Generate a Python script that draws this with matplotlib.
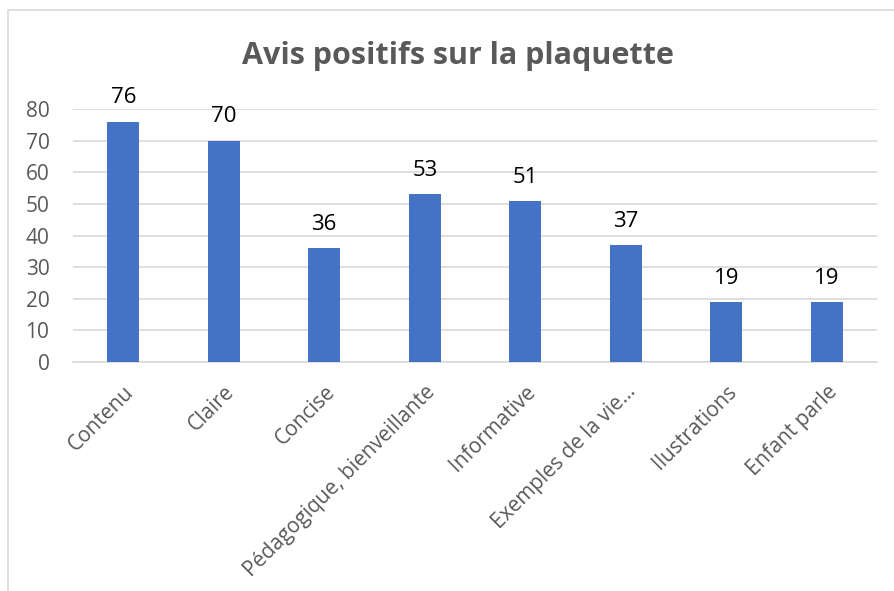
import matplotlib.pyplot as plt
from matplotlib.patches import Rectangle

categories = ["Contenu", "Claire", "Concise", "Pédagogique, bienveillante",
              "Informative", "Exemples de la vie…", "Ilustrations", "Enfant parle"]
values = [76, 70, 36, 53, 51, 37, 19, 19]
y_ticks = [0, 10, 20, 30, 40, 50, 60, 70, 80]

plt.rcParams['font.family'] = ['Open Sans', 'DejaVu Sans']

fig = plt.figure(figsize=(8.94, 5.91), dpi=100)
ax = fig.add_axes([73 / 894, 1 - 362 / 591, 804 / 894, 253 / 591])

# cadre du graphique
fig.patches.append(Rectangle((8 / 894, -0.1), 1.2, 1 - 10 / 591 + 0.1,
                             transform=fig.transFigure, fill=False,
                             edgecolor='#D9D9D9', linewidth=1.2))

x = range(len(categories))
bars = ax.bar(x, values, width=0.32, color='#4472C4', zorder=3)
for xi, v in zip(x, values):
    ax.annotate(str(v), (xi, v), xytext=(0, 9.5), textcoords='offset points',
                ha='center', va='bottom', fontsize=16, color='black')

ax.set_xlim(-0.5, len(categories) - 0.5)
ax.set_ylim(0, 80)
ax.set_yticks(y_ticks)
ax.set_xticks(list(x))
ax.set_xticklabels(categories, rotation=45, ha='right', rotation_mode='anchor',
                   fontsize=15, color='#595959')
ax.tick_params(axis='y', labelsize=15, labelcolor='#595959', length=0, pad=17)
ax.tick_params(axis='x', length=0, pad=14)
ax.grid(axis='y', color='#D9D9D9', linewidth=1.2, zorder=0)
for s in ['top', 'right', 'left']:
    ax.spines[s].set_visible(False)
ax.spines['bottom'].set_color('#D9D9D9')
ax.spines['bottom'].set_linewidth(1.2)

fig.text(458 / 894, 1 - 56 / 591, "Avis positifs sur la plaquette", ha='center', va='center',
         fontsize=22, fontweight='bold', color='#595959')

fig.savefig('out.png', dpi=100, facecolor='white')
